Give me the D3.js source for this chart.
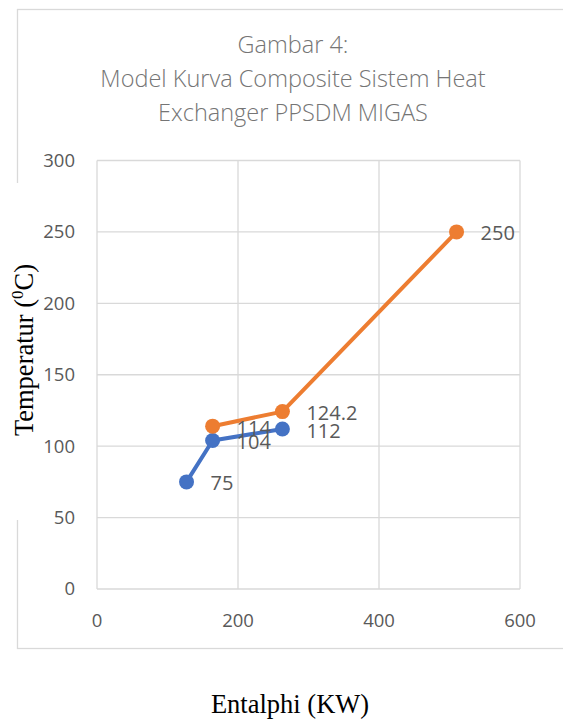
<!DOCTYPE html>
<html>
<head>
<meta charset="utf-8">
<script src="https://cdn.jsdelivr.net/npm/d3@7"></script>
<style>
  body { margin: 0; background: #fff; }
</style>
</head>
<body>
<div id="chart"></div>
<script>
// data
const hotX = [164, 263, 510];
const hotY = [114, 124.2, 250];
const coldX = [127, 164, 263];
const coldY = [75, 104, 112];
const xTicks = [0, 200, 400, 600];
const yTicks = [0, 50, 100, 150, 200, 250, 300];
const titleLines = ['Gambar 4:', 'Model Kurva Composite Sistem Heat', 'Exchanger PPSDM MIGAS'];

const W = 563, H = 720;
const svg = d3.select('#chart').append('svg')
  .attr('width', W)
  .attr('height', H);

// chart frame
svg.append('rect')
  .attr('x', 17.5).attr('y', 9.5)
  .attr('width', 600).attr('height', 639)
  .attr('fill', '#fff')
  .attr('stroke', '#d9d9d9')
  .attr('stroke-width', 1.3);

const x = d3.scaleLinear().domain([0, 600]).range([97, 520]);
const y = d3.scaleLinear().domain([0, 300]).range([589, 160.5]);

const g = svg.append('g');

// gridlines
g.selectAll('.hg').data(yTicks).enter().append('line')
  .attr('x1', x(0)).attr('x2', x(600))
  .attr('y1', d => y(d)).attr('y2', d => y(d))
  .attr('stroke', '#d9d9d9').attr('stroke-width', 1.3);
g.selectAll('.vg').data(xTicks).enter().append('line')
  .attr('x1', d => x(d)).attr('x2', d => x(d))
  .attr('y1', y(0)).attr('y2', y(300))
  .attr('stroke', '#d9d9d9').attr('stroke-width', 1.3);

// tick labels
const tickFont = '"Open Sans", sans-serif';
g.selectAll('.yl').data(yTicks).enter().append('text')
  .attr('x', 75).attr('y', d => y(d))
  .attr('dy', '0.35em')
  .attr('text-anchor', 'end')
  .attr('fill', '#595959')
  .style('font-family', tickFont).style('font-size', '18.5px')
  .text(d => d);
g.selectAll('.xl').data(xTicks).enter().append('text')
  .attr('x', d => x(d)).attr('y', 621)
  .attr('dy', '0.35em')
  .attr('text-anchor', 'middle')
  .attr('fill', '#595959')
  .style('font-family', tickFont).style('font-size', '18.5px')
  .text(d => d);

// series
const series = [
  { name: 'cold', xs: coldX, ys: coldY, color: '#4472C4' },
  { name: 'hot', xs: hotX, ys: hotY, color: '#ED7D31' }
];
const line = d3.line().x(d => x(d[0])).y(d => y(d[1]));

series.forEach(function (s) {
  const pts = s.xs.map((v, i) => [v, s.ys[i]]);
  g.append('path')
    .datum(pts)
    .attr('d', line)
    .attr('fill', 'none')
    .attr('stroke', s.color)
    .attr('stroke-width', 4)
    .attr('stroke-linejoin', 'round');
  g.selectAll('.pt-' + s.name).data(pts).enter().append('circle')
    .attr('cx', d => x(d[0])).attr('cy', d => y(d[1]))
    .attr('r', 7.5)
    .attr('fill', s.color);
  g.selectAll('.lb-' + s.name).data(pts).enter().append('text')
    .attr('x', d => x(d[0]) + 24).attr('y', d => y(d[1]) + 1.5)
    .attr('dy', '0.35em')
    .attr('fill', '#595959')
    .style('font-family', tickFont).style('font-size', '20px')
    .text(d => d[1]);
});

// title
svg.selectAll('.title').data(titleLines).enter().append('text')
  .attr('x', 293).attr('y', (d, i) => 53 + i * 34)
  .attr('text-anchor', 'middle')
  .attr('fill', '#757575')
  .style('font-family', tickFont).style('font-size', '23.5px')
  .style('font-weight', 300)
  .text(d => d);

// y axis title box covers part of the frame
svg.append('rect')
  .attr('x', 0).attr('y', 183)
  .attr('width', 43).attr('height', 337)
  .attr('fill', '#fff');
const yt = svg.append('text')
  .attr('transform', 'translate(33,350) rotate(-90)')
  .attr('text-anchor', 'middle')
  .attr('fill', '#000')
  .style('font-family', '"Liberation Serif", serif').style('font-size', '26.5px');
yt.append('tspan').text('Temperatur (');
yt.append('tspan').attr('dy', '-10').style('font-size', '17px').text('0');
yt.append('tspan').attr('dy', '10').text('C)');

svg.append('text')
  .attr('x', 290).attr('y', 713)
  .attr('text-anchor', 'middle')
  .attr('fill', '#000')
  .style('font-family', '"Liberation Serif", serif').style('font-size', '26.5px')
  .text('Entalphi (KW)');
</script>
</body>
</html>
